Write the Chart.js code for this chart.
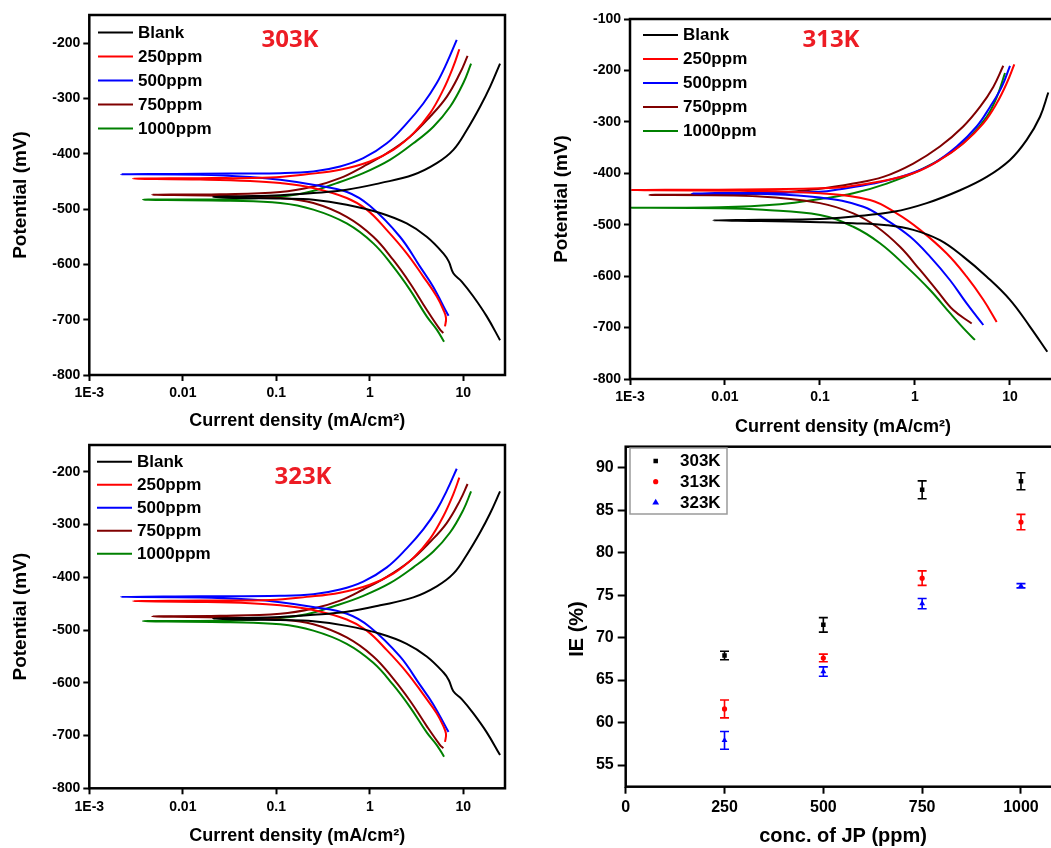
<!DOCTYPE html>
<html>
<head>
<meta charset="utf-8">
<script src="https://cdn.jsdelivr.net/npm/chart.js@4.4.1/dist/chart.umd.min.js"></script>
<style>
  html, body { margin: 0; padding: 0; background: #fff; overflow: hidden; }
  body { width: 1051px; height: 848px; position: relative; }
  canvas { position: absolute; left: 0; top: 0; }
</style>
</head>
<body>
<canvas id="c303" width="1080" height="848"></canvas>
<canvas id="c313" width="1080" height="848"></canvas>
<canvas id="c323" width="1080" height="848"></canvas>
<canvas id="cIE" width="1080" height="848"></canvas>
<script>
// ---------- data ----------
const curveLabels = ['Blank', '250ppm', '500ppm', '750ppm', '1000ppm'];
const curveColors = ['#000000', '#ff0000', '#0000ff', '#800000', '#008000'];

const currentTicks = [0.001, 0.01, 0.1, 1, 10];
const currentTickLabels = ['1E-3', '0.01', '0.1', '1', '10'];
const potTicksA = [-800, -700, -600, -500, -400, -300, -200];
const potTicksB = [-800, -700, -600, -500, -400, -300, -200, -100];

// 303K  (each trace: anodic end -> Ecorr tip -> cathodic end)
const blank303I = [24.7, 19.3, 15.1, 10.9, 7.82, 5.2, 2.92, 1.29, 0.566, 0.249, 0.11, 0.041, 0.021, 0.041, 0.11, 0.249, 0.566, 1.29, 2.48, 4.06, 6.11, 7.0, 7.82, 9.61, 12.8, 17.8, 24.7];
const blank303E = [-237, -279, -315, -357, -393, -417, -438, -453, -465, -471, -475, -477, -478, -480, -481, -483, -492, -507, -526, -550, -580, -595, -616, -631, -658, -694, -737];
const p250_303I = [9.06, 7.82, 6.11, 4.4, 2.92, 1.78, 1.0, 0.48, 0.211, 0.0857, 0.0153, 0.00293, 0.0153, 0.0524, 0.11, 0.247, 0.566, 0.927, 1.52, 2.48, 3.73, 5.2, 6.11, 6.53, 6.37];
const p250_303E = [-211, -242, -284, -327, -363, -393, -414, -429, -437, -443, -444, -445, -446.5, -449, -453, -462, -480, -501, -538, -580, -622, -658, -682, -697, -712];
const p500_303I = [8.5, 6.64, 5.2, 3.73, 2.48, 1.52, 0.851, 0.48, 0.249, 0.11, 0.0153, 0.00218, 0.0153, 0.0524, 0.11, 0.247, 0.57, 1.0, 2.1, 3.44, 4.74, 6.69, 6.95];
const p500_303E = [-194, -236, -272, -309, -345, -381, -408, -423, -432, -435, -436, -437, -438, -442, -447, -456, -469, -494, -550, -604, -640, -688, -693];
const p750_303I = [11.1, 9.22, 6.64, 4.4, 2.69, 1.52, 0.851, 0.48, 0.249, 0.11, 0.025, 0.00469, 0.025, 0.11, 0.249, 0.566, 1.09, 1.78, 2.69, 4.06, 5.64, 6.11];
const p750_303E = [-223, -254, -297, -333, -369, -399, -423, -444, -459, -469, -473, -474, -476, -480, -489, -514, -550, -592, -634, -682, -718, -724];
const p1000_303I = [12.1, 10.0, 7.21, 4.78, 2.92, 1.64, 0.851, 0.443, 0.211, 0.11, 0.032, 0.00375, 0.032, 0.11, 0.249, 0.566, 1.09, 1.78, 2.69, 4.06, 5.2, 6.22];
const p1000_303E = [-237, -272, -315, -351, -381, -411, -435, -453, -470, -477, -482, -483, -485, -489, -501, -526, -562, -604, -646, -694, -718, -740];

// 313K
const blank313I = [25.3, 20.7, 15.0, 10.0, 5.69, 2.98, 1.33, 0.592, 0.224, 0.1, 0.0233, 0.00753, 0.0233, 0.1, 0.224, 0.504, 0.959, 1.83, 3.22, 5.69, 10.0, 16.2, 24.7];
const blank313E = [-243, -290, -335, -374, -407, -433, -458, -475, -484, -489, -490.5, -491.5, -493, -495, -497, -501, -510, -530, -562, -601, -646, -698, -747];
const p250_313I = [11.1, 9.23, 7.24, 5.24, 3.22, 1.83, 0.959, 0.428, 0.191, 0.1, 0.0144, 0.00102, 0.0144, 0.1, 0.336, 0.641, 1.13, 2.16, 3.5, 5.24, 7.24];
const p250_313E = [-188, -225, -264, -303, -342, -374, -400, -416, -426, -429, -431.5, -432.5, -434, -439, -452, -478, -510, -556, -601, -646, -689];
const p500_313I = [10.0, 8.19, 6.16, 4.46, 2.75, 1.56, 0.818, 0.364, 0.163, 0.1, 0.0233, 0.00446, 0.0233, 0.1, 0.286, 0.504, 0.885, 1.44, 2.34, 3.5, 5.24];
const p500_313E = [-191, -232, -271, -309, -348, -381, -403, -420, -431, -436, -438, -439, -440, -447, -465, -491, -523, -562, -608, -653, -695];
const p750_313I = [8.5, 6.67, 4.83, 3.22, 1.83, 0.959, 0.463, 0.224, 0.1, 0.0233, 0.0016, 0.0233, 0.1, 0.224, 0.395, 0.695, 1.13, 1.69, 2.53, 3.95];
const p750_313E = [-191, -232, -271, -309, -348, -381, -407, -420, -430, -440, -442, -445, -458, -478, -504, -543, -588, -627, -666, -692];
const p1000_313I = [8.86, 7.29, 5.69, 3.79, 2.34, 1.13, 0.504, 0.224, 0.1, 0.0379, 0.00886, 0.001, 0.00886, 0.0251, 0.1, 0.224, 0.428, 0.818, 1.44, 2.34, 3.5, 4.28];
const p1000_313E = [-205, -251, -290, -329, -361, -394, -420, -439, -450, -460, -466, -467, -468, -471, -481, -504, -536, -582, -627, -672, -708, -724];

const current303 = [blank303I, p250_303I, p500_303I, p750_303I, p1000_303I];
const potential303 = [blank303E, p250_303E, p500_303E, p750_303E, p1000_303E];
const current313 = [blank313I, p250_313I, p500_313I, p750_313I, p1000_313I];
const potential313 = [blank313E, p250_313E, p500_313E, p750_313E, p1000_313E];
// the 323K panel shows the same traces as the 303K one
const current323 = current303;
const potential323 = potential303;

// inhibition efficiency
const conc = [250, 500, 750, 1000];
const concTicks = [0, 250, 500, 750, 1000];
const ieTicks = [55, 60, 65, 70, 75, 80, 85, 90];
const ie303 = [67.9, 71.5, 87.4, 88.4];
const err303 = [0.5, 0.85, 1.05, 1.0];
const ie313 = [61.6, 67.6, 77.0, 83.6];
const err313 = [1.05, 0.45, 0.85, 0.9];
const ie323 = [57.9, 66.0, 74.0, 76.1];
const err323 = [1.05, 0.55, 0.6, 0.25];

// ---------- styling ----------
const CW = 1080, CH = 848;
const FAM = '"Liberation Sans", Arial, sans-serif';
const legendFont = 'bold 17px ' + FAM;

function drawMarker(ctx, style, x, y, r, color) {
  ctx.fillStyle = color;
  ctx.beginPath();
  if (style === 'rect') {
    const s = r * Math.SQRT1_2;
    ctx.rect(x - s, y - s, 2 * s, 2 * s);
  } else if (style === 'triangle') {
    ctx.moveTo(x, y - r * 1.1);
    ctx.lineTo(x - r, y + r * 0.6);
    ctx.lineTo(x + r, y + r * 0.6);
    ctx.closePath();
  } else {
    ctx.arc(x, y, r, 0, Math.PI * 2);
  }
  ctx.fill();
}

const panelDecor = {
  id: 'panelDecor',
  afterDraw(chart, args, o) {
    const ctx = chart.ctx, a = chart.chartArea;
    ctx.save();
    ctx.lineWidth = 2.5;
    ctx.strokeStyle = '#000';
    ctx.strokeRect(a.left, a.top, a.right - a.left, a.bottom - a.top);

    if (o.lineLegend) {
      const L = o.lineLegend;
      chart.data.datasets.forEach((ds, k) => {
        const y = L.y + k * L.dy;
        ctx.strokeStyle = ds.borderColor;
        ctx.lineWidth = 2;
        ctx.beginPath(); ctx.moveTo(L.x1, y); ctx.lineTo(L.x2, y); ctx.stroke();
        ctx.fillStyle = '#000';
        ctx.font = legendFont;
        ctx.textAlign = 'left';
        ctx.textBaseline = 'middle';
        ctx.fillText(ds.label, L.tx, y + 0.5);
      });
    }
    if (o.markLegend) {
      const L = o.markLegend;
      ctx.strokeStyle = '#9a9a9a';
      ctx.lineWidth = 1.5;
      ctx.strokeRect(L.box[0], L.box[1], L.box[2], L.box[3]);
      chart.data.datasets.forEach((ds, k) => {
        const y = L.y + k * L.dy;
        drawMarker(ctx, ds.pointStyle, L.mx, y, ds.pointRadius, ds.backgroundColor);
        ctx.fillStyle = '#000';
        ctx.font = legendFont;
        ctx.textAlign = 'left';
        ctx.textBaseline = 'middle';
        ctx.fillText(ds.label, L.tx, y + 0.5);
      });
    }
    (o.texts || []).forEach(t => {
      ctx.save();
      ctx.translate(t.x, t.y);
      if (t.rotate) ctx.rotate(t.rotate);
      ctx.font = t.font;
      ctx.fillStyle = t.color || '#000';
      ctx.textAlign = 'center';
      ctx.textBaseline = 'middle';
      ctx.fillText(t.text, 0, 0);
      ctx.restore();
    });
    ctx.restore();
  }
};

const errorBars = {
  id: 'errorBars',
  beforeDatasetsDraw(chart) {
    const ctx = chart.ctx, xs = chart.scales.x, ys = chart.scales.y;
    ctx.save();
    chart.data.datasets.forEach(ds => {
      if (!ds.errorBars) return;
      ctx.strokeStyle = ds.borderColor;
      ctx.lineWidth = 1.6;
      ds.data.forEach((p, i) => {
        const e = ds.errorBars[i];
        const x = xs.getPixelForValue(p.x);
        const y1 = ys.getPixelForValue(p.y + e), y2 = ys.getPixelForValue(p.y - e);
        ctx.beginPath();
        ctx.moveTo(x, y1); ctx.lineTo(x, y2);
        ctx.moveTo(x - 4.5, y1); ctx.lineTo(x + 4.5, y1);
        ctx.moveTo(x - 4.5, y2); ctx.lineTo(x + 4.5, y2);
        ctx.stroke();
      });
    });
    ctx.restore();
  }
};

function tickGrid(len) {
  return { drawOnChartArea: false, drawTicks: true, tickLength: len, tickWidth: 2, tickColor: '#000', color: '#000' };
}

function potentialChart(id, g, I, E, temp) {
  return new Chart(document.getElementById(id), {
    type: 'scatter',
    data: {
      datasets: curveLabels.map((lab, k) => ({
        label: lab,
        data: I[k].map((x, i) => ({ x: x, y: E[k][i] })),
        showLine: true,
        borderColor: curveColors[k],
        backgroundColor: curveColors[k],
        borderWidth: 2,
        pointRadius: 0,
        tension: 0.4
      }))
    },
    options: {
      responsive: false,
      animation: false,
      events: [],
      layout: { padding: { left: g.boxLeft, top: g.top, right: CW - g.right, bottom: CH - g.boxBottom } },
      scales: {
        x: {
          type: 'logarithmic', min: 0.001, max: g.xMax,
          afterFit: s => { s.height = g.boxBottom - g.bottom; },
          afterBuildTicks: s => { s.ticks = currentTicks.map(v => ({ value: v })); },
          ticks: { callback: (v, i) => currentTickLabels[i], autoSkip: false, maxRotation: 0, padding: 4,
                   color: '#000', font: { family: FAM, size: 14, weight: 'bold' } },
          grid: tickGrid(6),
          border: { display: false },
          title: { display: true, text: 'Current density (mA/cm²)', color: '#000',
                   font: { family: FAM, size: 18, weight: 'bold' }, padding: { top: 0, bottom: g.xTitlePad } }
        },
        y: {
          type: 'linear', min: -800, max: g.yMax,
          afterFit: s => { s.width = g.left - g.boxLeft; },
          afterBuildTicks: s => { s.ticks = g.yTicks.map(v => ({ value: v })); },
          ticks: { callback: v => String(v), padding: 3, color: '#000', font: { family: FAM, size: 14, weight: 'bold' } },
          grid: tickGrid(6),
          border: { display: false },
          title: { display: true, text: 'Potential (mV)', color: '#000',
                   font: { family: FAM, size: 19, weight: 'bold' }, padding: { top: g.yTitlePad, bottom: 0 } }
        }
      },
      plugins: {
        legend: { display: false },
        tooltip: { enabled: false },
        panelDecor: {
          lineLegend: g.legend,
          texts: [{ text: temp, x: g.tempX, y: g.tempY, font: 'bold 24px "Open Sans", sans-serif', color: '#ed1c24' }]
        }
      }
    },
    plugins: [panelDecor]
  });
}

potentialChart('c303', {
  left: 89.3, top: 15, right: 505, bottom: 375, boxLeft: 0, boxBottom: 440,
  xMax: 27.9, yMax: -149, yTicks: potTicksA, yTitlePad: 9.6, xTitlePad: 8.2,
  legend: { x1: 98, x2: 133, tx: 138, y: 32.5, dy: 24 }, tempX: 290, tempY: 40
}, current303, potential303, '303K');

potentialChart('c313', {
  left: 630, top: 19, right: 1056, bottom: 379, boxLeft: 540, boxBottom: 440,
  xMax: 30.5, yMax: -100, yTicks: potTicksB, yTitlePad: 10.6, xTitlePad: 2.2,
  legend: { x1: 643, x2: 678, tx: 683, y: 35, dy: 24 }, tempX: 831, tempY: 40
}, current313, potential313, '313K');

potentialChart('c323', {
  left: 89.3, top: 445, right: 505, bottom: 788.3, boxLeft: 0, boxBottom: 848,
  xMax: 27.9, yMax: -149, yTicks: potTicksA, yTitlePad: 9.6, xTitlePad: 1.2,
  legend: { x1: 97, x2: 132, tx: 137, y: 461.7, dy: 23 }, tempX: 303, tempY: 477
}, current323, potential323, '323K');

// efficiency panel
const gIE = { left: 625.7, top: 446.7, right: 1060.5, bottom: 786.7, boxLeft: 560, boxBottom: 848 };
new Chart(document.getElementById('cIE'), {
  type: 'scatter',
  data: {
    datasets: [
      { label: '303K', data: conc.map((c, i) => ({ x: c, y: ie303[i] })), errorBars: err303,
        pointStyle: 'rect', pointRadius: 3.2, backgroundColor: '#000000', borderColor: '#000000', borderWidth: 0 },
      { label: '313K', data: conc.map((c, i) => ({ x: c, y: ie313[i] })), errorBars: err313,
        pointStyle: 'circle', pointRadius: 2.6, backgroundColor: '#ff0000', borderColor: '#ff0000', borderWidth: 0 },
      { label: '323K', data: conc.map((c, i) => ({ x: c, y: ie323[i] })), errorBars: err323,
        pointStyle: 'triangle', pointRadius: 3.4, backgroundColor: '#0000ff', borderColor: '#0000ff', borderWidth: 0 }
    ]
  },
  options: {
    responsive: false,
    animation: false,
    events: [],
    layout: { padding: { left: gIE.boxLeft, top: gIE.top, right: CW - gIE.right, bottom: CH - gIE.boxBottom } },
    scales: {
      x: {
        type: 'linear', min: 0, max: 1100,
        afterFit: s => { s.height = gIE.boxBottom - gIE.bottom; },
        afterBuildTicks: s => { s.ticks = concTicks.map(v => ({ value: v })); },
        ticks: { callback: v => String(v), autoSkip: false, maxRotation: 0, padding: 4, color: '#000',
                 font: { family: FAM, size: 16, weight: 'bold' } },
        grid: tickGrid(7),
        border: { display: false },
        title: { display: true, text: 'conc. of JP (ppm)', color: '#000',
                 font: { family: FAM, size: 20, weight: 'bold' }, padding: { top: 0, bottom: 0 } }
      },
      y: {
        type: 'linear', min: 52.45, max: 92.47,
        afterFit: s => { s.width = gIE.left - gIE.boxLeft; },
        afterBuildTicks: s => { s.ticks = ieTicks.map(v => ({ value: v })); },
        ticks: { callback: v => String(v), padding: 4, color: '#000', font: { family: FAM, size: 16, weight: 'bold' } },
        grid: tickGrid(8),
        border: { display: false }
      }
    },
    plugins: {
      legend: { display: false },
      tooltip: { enabled: false },
      panelDecor: {
        markLegend: { box: [630, 448, 97, 66], mx: 655.7, tx: 680, y: 461, dy: 20.7 },
        texts: [{ text: 'IE (%)', x: 577, y: 629, rotate: -Math.PI / 2, font: 'bold 20px ' + FAM }]
      }
    }
  },
  plugins: [errorBars, panelDecor]
});
</script>
</body>
</html>
